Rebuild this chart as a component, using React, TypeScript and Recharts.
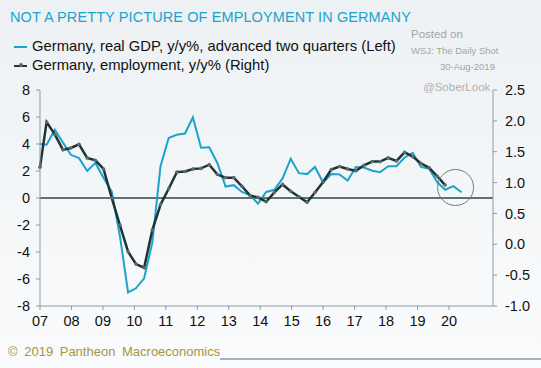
import { Line, LineChart, ReferenceDot, ReferenceLine, XAxis, YAxis } from 'recharts';

// decimal-year positions of the quarterly observations
const quarters = [
  2007.0, 2007.21, 2007.47, 2007.73, 2007.98, 2008.24, 2008.5, 2008.76, 2009.02, 2009.28,
  2009.54, 2009.8, 2010.05, 2010.31, 2010.57, 2010.83, 2011.09, 2011.35, 2011.61, 2011.86,
  2012.12, 2012.38, 2012.64, 2012.9, 2013.16, 2013.42, 2013.68, 2013.93, 2014.19, 2014.45,
  2014.71, 2014.97, 2015.23, 2015.49, 2015.74, 2016.0, 2016.26, 2016.52, 2016.78, 2017.04,
  2017.3, 2017.56, 2017.81, 2018.07, 2018.33, 2018.59, 2018.85, 2019.11, 2019.37, 2019.63,
  2019.88, 2020.14, 2020.4,
];

// real GDP y/y%, advanced two quarters (left axis)
const gdpValues = [
  4.0, 3.95, 5.06, 4.1, 3.2, 2.95, 2.0, 2.6, 1.5, 0.48,
  -2.8, -7.0, -6.69, -5.95, -3.3, 2.34, 4.44, 4.69, 4.78, 5.97,
  3.72, 3.75, 2.58, 0.85, 0.95, 0.45, 0.2, -0.42, 0.45, 0.61,
  1.45, 2.91, 1.84, 1.77, 2.3, 1.15, 1.77, 1.75, 1.3, 2.3,
  2.26, 2.02, 1.91, 2.36, 2.36, 3.0, 3.35, 2.3, 2.17, 1.16,
  0.61, 0.88, 0.43,
];

// employment y/y% (right axis)
const employmentValues = [
  1.25, 1.98, 1.78, 1.53, 1.56, 1.62, 1.4, 1.36, 1.22, 0.75,
  0.31, -0.12, -0.32, -0.38, 0.23, 0.64, 0.9, 1.17, 1.18, 1.22,
  1.23, 1.29, 1.13, 1.08, 1.08, 0.94, 0.79, 0.76, 0.69, 0.84,
  0.97, 0.86, 0.77, 0.68, 0.84, 1.01, 1.21, 1.26, 1.22, 1.19,
  1.28, 1.34, 1.34, 1.4, 1.35, 1.49, 1.42, 1.31, 1.24, 1.1,
  0.96,
];

const yearTicks = [2007, 2008, 2009, 2010, 2011, 2012, 2013, 2014, 2015, 2016, 2017, 2018, 2019, 2020];
const leftTicks = [-8, -6, -4, -2, 0, 2, 4, 6, 8];
const rightTicks = [-1, -0.5, 0, 0.5, 1, 1.5, 2, 2.5];

// the hand-drawn circle around the latest readings
const circleMark = { year: 2020.21, value: 0.78 };

const data = quarters.map((t, i) => ({ t, gdp: gdpValues[i], emp: employmentValues[i] }));

const FONT = '"Liberation Sans", Arial, sans-serif';
const BLUE = '#1ba3cb';
const DARK = '#1e3436';
const AXIS = '#8d9ca6';

const tickStyle = { fontSize: 14.5, fill: '#111', fontFamily: FONT };

export default function App() {
  return (
    <div
      style={{
        position: 'absolute',
        left: 0,
        top: 0,
        width: 541,
        height: 368,
        background: 'linear-gradient(#edf1f4, #fafbfc)',
        fontFamily: FONT,
        overflow: 'hidden',
      }}
    >
      <div style={{ position: 'absolute', left: 10, top: 9, fontSize: 14.5, color: BLUE, letterSpacing: 0.1 }}>
        NOT A PRETTY PICTURE OF EMPLOYMENT IN GERMANY
      </div>

      <div style={{ position: 'absolute', left: 14, top: 37, fontSize: 14.8, color: '#111', lineHeight: '19px' }}>
        <div style={{ display: 'flex', alignItems: 'center' }}>
          <span style={{ width: 13, height: 2, background: BLUE, marginRight: 5 }} />
          Germany, real GDP, y/y%, advanced two quarters (Left)
        </div>
        <div style={{ display: 'flex', alignItems: 'center' }}>
          <span style={{ position: 'relative', width: 13, height: 2, background: DARK, marginRight: 5 }}>
            <span style={{ position: 'absolute', left: 5, top: -1.5, width: 4, height: 4, borderRadius: 2, background: '#5d6b6e' }} />
          </span>
          Germany, employment, y/y% (Right)
        </div>
      </div>

      <div style={{ position: 'absolute', left: 411, top: 28, fontSize: 11.5, color: '#a5a5a5' }}>Posted on</div>
      <div style={{ position: 'absolute', left: 411, top: 45, fontSize: 9.5, color: '#a5a5a5' }}>WSJ: The Daily Shot</div>
      <div style={{ position: 'absolute', left: 440, top: 61, fontSize: 9.5, color: '#a5a5a5' }}>30-Aug-2019</div>
      <div style={{ position: 'absolute', left: 423, top: 81, fontSize: 11.5, color: '#b0b0b0' }}>@SoberLook</div>

      <LineChart
        width={541}
        height={368}
        data={data}
        margin={{ top: 90, right: 0, bottom: 32, left: 0 }}
        style={{ position: 'absolute', left: 0, top: 0 }}
      >
        <XAxis
          dataKey="t"
          type="number"
          domain={[2007, 2021.4]}
          ticks={yearTicks}
          tickFormatter={(y: number) => String(y).slice(2)}
          interval={0}
          height={30}
          tick={tickStyle}
          tickSize={4}
          tickMargin={6}
          stroke={AXIS}
        />
        <YAxis
          yAxisId="left"
          domain={[-8, 8]}
          ticks={leftTicks}
          interval={0}
          width={40}
          tick={tickStyle}
          tickSize={4}
          tickMargin={6}
          stroke={AXIS}
        />
        <YAxis
          yAxisId="right"
          orientation="right"
          domain={[-1, 2.5]}
          ticks={rightTicks}
          tickFormatter={(v: number) => v.toFixed(1)}
          interval={0}
          width={48}
          tick={tickStyle}
          tickSize={4}
          tickMargin={8}
          stroke={AXIS}
        />
        <ReferenceLine yAxisId="left" y={0} stroke="#2a4648" strokeWidth={1.5} />
        <Line
          yAxisId="left"
          dataKey="gdp"
          stroke={BLUE}
          strokeWidth={2}
          dot={false}
          isAnimationActive={false}
        />
        <Line
          yAxisId="right"
          dataKey="emp"
          stroke={DARK}
          strokeWidth={2.5}
          dot={{ r: 1.8, fill: '#5d6b6e', stroke: 'none' }}
          isAnimationActive={false}
        />
        <ReferenceDot
          yAxisId="left"
          x={circleMark.year}
          y={circleMark.value}
          r={18}
          fill="none"
          stroke="#6f7d84"
          strokeWidth={1}
        />
      </LineChart>

      <div style={{ position: 'absolute', left: 8, top: 344, fontSize: 13, color: '#a6963c', wordSpacing: 3 }}>
        © 2019 Pantheon Macroeconomics
      </div>
      <div style={{ position: 'absolute', left: 220, top: 358, width: 321, height: 1.5, background: '#a3b3bd' }} />
    </div>
  );
}
